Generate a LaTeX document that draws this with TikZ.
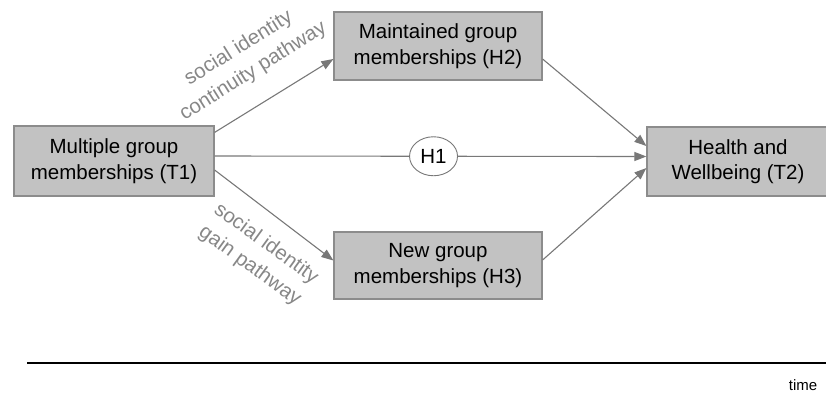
\documentclass[tikz,border=0pt]{standalone}
\usepackage{fontspec}
\setmainfont{Liberation Sans}
\usetikzlibrary{arrows.meta,shapes.geometric}
\definecolor{boxfill}{RGB}{194,194,194}
\definecolor{boxline}{RGB}{140,140,140}
\definecolor{arrowcol}{RGB}{120,120,120}
\definecolor{labelcol}{RGB}{135,135,135}
\tikzset{
  gbox/.style={draw=boxline, fill=boxfill, line width=1.2pt, minimum width=#1, align=center, inner sep=0pt,
    font=\fontsize{20.5}{25.5}\selectfont},
  conn/.style={draw=arrowcol, line width=1.1pt, -{Triangle[length=12pt,width=9pt]}},
  pathlabel/.style={text=labelcol, align=center, inner sep=1pt, font=\fontsize{20.5}{27.5}\selectfont},
}
\begin{document}
\begin{tikzpicture}[x=1pt,y=-1pt]
\useasboundingbox (0,0) rectangle (826,392);
\node[gbox=200pt, minimum height=70pt] (T1) at (114,161) {Multiple group\\memberships (T1)};
\node[gbox=208pt, minimum height=68pt] (H2) at (438,46) {Maintained group\\memberships (H2)};
\node[gbox=208pt, minimum height=67pt] (H3) at (438,265.5) {New group\\memberships (H3)};
\node[gbox=182pt, minimum height=69pt] (T2) at (738,161.5) {Health and\\Wellbeing (T2)};

\draw[conn] ([yshift=-7pt]T1.north east) -- ([yshift=-13pt]H2.west);
\draw[conn] ([yshift=-9pt]T1.east) -- ([yshift=5pt]H3.west);
\draw[conn] ([yshift=-13pt]H2.east) -- ([yshift=15.5pt]T2.west);
\draw[conn] ([yshift=5.5pt]H3.east) -- ([yshift=-6.5pt]T2.west);
\draw[conn] ([yshift=5pt]T1.east) -- node[pos=0.507, ellipse, draw=arrowcol, fill=white, line width=0.9pt,
   minimum width=48pt, minimum height=39pt, inner sep=0pt, font=\fontsize{20.5}{24}\selectfont] (H1) {H1}
   ([yshift=5pt]T2.west);

\node[pathlabel, rotate=32] (L1) at (246,60) {social identity\\continuity pathway};
\node[pathlabel, rotate=-36] (L2) at (258,255) {social identity\\gain pathway};

\coordinate (ts) at (27,363);
\coordinate (te) at (826,363);
\draw[black, line width=2.6pt] (ts) -- (te);
\node[font=\fontsize{15}{18}\selectfont, inner sep=0pt] (time) at (803,385) {time};
\end{tikzpicture}
\end{document}
